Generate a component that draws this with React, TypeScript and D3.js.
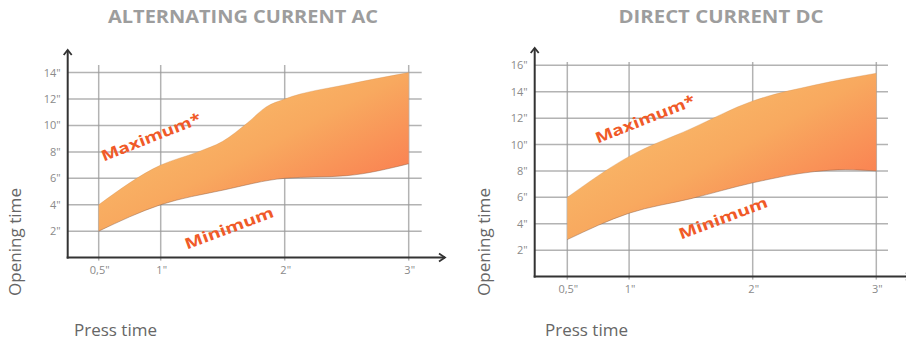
import React from "react";
import * as d3 from "d3";

// ---- data ----
const acMaxX = [0.5, 1, 1.3, 1.5, 1.7, 1.85, 2, 2.5, 3];
const acMaxY = [4, 7, 8, 8.8, 10.2, 11.4, 12, 13.1, 14];
const acMinX = [0.5, 1, 1.5, 2, 2.5, 3];
const acMinY = [2, 4, 5.1, 6, 6.2, 7.1];

const dcMaxX = [0.5, 1, 1.5, 2, 2.5, 3];
const dcMaxY = [6, 9.1, 11.2, 13.3, 14.5, 15.4];
const dcMinX = [0.5, 1, 1.5, 2, 2.5, 2.75, 3];
const dcMinY = [2.8, 4.8, 5.9, 7.1, 7.95, 8.1, 8.0];

const xTicks = [0.5, 1, 2, 3];
const xTickLabels = ['0,5"', '1"', '2"', '3"'];
const acYTicks = [2, 4, 6, 8, 10, 12, 14];
const dcYTicks = [2, 4, 6, 8, 10, 12, 14, 16];

const titles = ["ALTERNATING CURRENT AC", "DIRECT CURRENT DC"];
const yLabel = "Opening time";
const xLabel = "Press time";
const maxLabel = "Maximum*";
const minLabel = "Minimum";

type ChartProps = {
  id: string;
  title: string;
  titleX: number;
  titleW: number;
  maxX: number[];
  maxY: number[];
  minX: number[];
  minY: number[];
  yTicks: number[];
  yMax: number;
  xRange: [number, number];
  yRange: [number, number];
  axisX: number;
  axisY: number;
  gridRight: number;
  gridTop: number;
  arrowTop: number;
  arrowRight: number;
  yLabelX: number;
  xLabelX: number;
  maxPos: [number, number];
  minPos: [number, number];
};

function Chart(p: ChartProps) {
  const x = d3.scaleLinear().domain([0.5, 3]).range(p.xRange);
  const y = d3.scaleLinear().domain([0, p.yMax]).range(p.yRange);
  const maxPts: [number, number][] = p.maxX.map((v, i) => [x(v), y(p.maxY[i])]);
  const minPts: [number, number][] = p.minX.map((v, i) => [x(v), y(p.minY[i])]);
  const line = d3.line().curve(d3.curveMonotoneX);
  const top = line(maxPts) as string;
  const bottomRev = line([...minPts].reverse()) as string;
  const areaPath = top + "L" + bottomRev.slice(1) + "Z";
  const gridColor = "#9a9a9a";
  const axisColor = "#333";
  const tickColor = "#8a8a8a";
  return (
    <g>
      <defs>
        <linearGradient id={p.id} x1="0" y1="0" x2="1" y2="1">
          <stop offset="0" stopColor="#f9c772" />
          <stop offset="0.5" stopColor="#f8a95f" />
          <stop offset="1" stopColor="#fb6a4a" />
        </linearGradient>
      </defs>
      <text
        x={p.titleX}
        y={23}
        textAnchor="middle"
        fontFamily="'Open Sans', sans-serif"
        fontWeight={700}
        fontSize={17}
        fill="#9d9d9d"
        textLength={p.titleW}
        lengthAdjust="spacingAndGlyphs"
      >
        {p.title}
      </text>
      {/* horizontal grid */}
      {p.yTicks.map((t) => (
        <line key={"h" + t} x1={p.axisX} x2={p.gridRight} y1={y(t)} y2={y(t)} stroke={gridColor} strokeOpacity={0.75} strokeWidth={1.5} />
      ))}
      {/* vertical grid */}
      {xTicks.map((t) => (
        <line key={"v" + t} x1={x(t)} x2={x(t)} y1={p.gridTop} y2={p.axisY + 3} stroke={gridColor} strokeOpacity={0.75} strokeWidth={1.5} />
      ))}
      <path d={areaPath} fill={`url(#${p.id})`} />
      <path d={line(minPts) as string} fill="none" stroke="#8a5a40" strokeOpacity={0.45} strokeWidth={1} />
      <path d={top} fill="none" stroke="#c98a50" strokeOpacity={0.3} strokeWidth={1} />
      {/* axes */}
      <line x1={p.axisX} x2={p.axisX} y1={p.arrowTop} y2={p.axisY + 1} stroke={axisColor} strokeWidth={2} />
      <line x1={p.axisX - 1} x2={p.arrowRight} y1={p.axisY} y2={p.axisY} stroke={axisColor} strokeWidth={2} />
      <polyline points={`${p.axisX - 4},${p.arrowTop + 5} ${p.axisX},${p.arrowTop} ${p.axisX + 4},${p.arrowTop + 5}`} fill="none" stroke={axisColor} strokeWidth={1.8} />
      <polyline points={`${p.arrowRight - 6},${p.axisY - 4} ${p.arrowRight},${p.axisY} ${p.arrowRight - 6},${p.axisY + 4}`} fill="none" stroke={axisColor} strokeWidth={1.8} />
      {/* tick labels */}
      {p.yTicks.map((t) => (
        <text key={"yt" + t} x={p.axisX - 7} y={y(t) + 4} textAnchor="end" fontFamily="'Open Sans', sans-serif" fontSize={11} fill={tickColor}>
          {t + '"'}
        </text>
      ))}
      {xTicks.map((t, i) => (
        <text key={"xt" + t} x={x(t) + 1} y={p.axisY + 16} textAnchor="middle" fontFamily="'Open Sans', sans-serif" fontSize={11} fill={tickColor}>
          {xTickLabels[i]}
        </text>
      ))}
      {/* axis titles */}
      <text
        transform={`translate(${p.yLabelX},242) rotate(-90)`}
        textAnchor="middle"
        fontFamily="'Open Sans', sans-serif"
        fontSize={16}
        fill="#666"
        textLength={108}
        lengthAdjust="spacingAndGlyphs"
      >
        {yLabel}
      </text>
      <text
        x={p.xLabelX}
        y={336}
        fontFamily="'Open Sans', sans-serif"
        fontSize={16}
        fill="#666"
        textLength={83}
        lengthAdjust="spacingAndGlyphs"
      >
        {xLabel}
      </text>
      {/* series labels */}
      <text
        transform={`translate(${p.maxPos[0]},${p.maxPos[1]}) rotate(-21.5)`}
        textAnchor="middle"
        fontFamily="'Open Sans', sans-serif"
        fontWeight={700}
        fontSize={15}
        fill="#f05a28"
        textLength={106}
        lengthAdjust="spacingAndGlyphs"
      >
        {maxLabel}
      </text>
      <text
        transform={`translate(${p.minPos[0]},${p.minPos[1]}) rotate(-20.5)`}
        textAnchor="middle"
        fontFamily="'Open Sans', sans-serif"
        fontWeight={700}
        fontSize={15}
        fill="#f05a28"
        textLength={94}
        lengthAdjust="spacingAndGlyphs"
      >
        {minLabel}
      </text>
    </g>
  );
}

export default function App() {
  return (
    <svg width={906} height={343} style={{ position: "absolute", left: 0, top: 0, background: "#fff" }}>
      <Chart
        id="gradAC"
        title={titles[0]}
        titleX={243}
        titleW={270}
        maxX={acMaxX}
        maxY={acMaxY}
        minX={acMinX}
        minY={acMinY}
        yTicks={acYTicks}
        yMax={14}
        xRange={[98.7, 408.7]}
        yRange={[257.6, 72.6]}
        axisX={67.7}
        axisY={257.6}
        gridRight={421.7}
        gridTop={65}
        arrowTop={50}
        arrowRight={445}
        yLabelX={21}
        xLabelX={74}
        maxPos={[153, 142]}
        minPos={[231, 233]}
      />
      <Chart
        id="gradDC"
        title={titles[1]}
        titleX={721}
        titleW={205}
        maxX={dcMaxX}
        maxY={dcMaxY}
        minX={dcMinX}
        minY={dcMinY}
        yTicks={dcYTicks}
        yMax={16}
        xRange={[567.3, 876.3]}
        yRange={[276.6, 65.3]}
        axisX={534.7}
        axisY={276.6}
        gridRight={888}
        gridTop={62}
        arrowTop={48}
        arrowRight={912}
        yLabelX={490}
        xLabelX={545}
        maxPos={[647, 124]}
        minPos={[725, 223]}
      />
    </svg>
  );
}
